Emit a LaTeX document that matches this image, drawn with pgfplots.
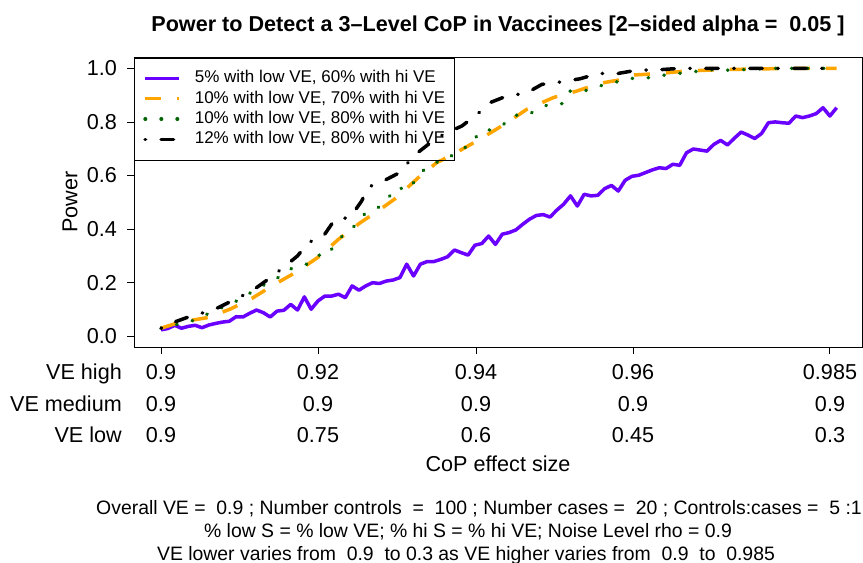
\documentclass[border=0pt]{standalone}
\usepackage{fontspec}
\setmainfont{Liberation Sans}
\usepackage{pgfplots}
\pgfplotsset{compat=1.18}
\definecolor{cPurple}{HTML}{6A00FF}
\definecolor{cOrange}{HTML}{FFA500}
\definecolor{cGreen}{HTML}{006400}
\newcommand{\fA}{\fontsize{21.6bp}{26bp}\selectfont}
\newcommand{\fL}{\fontsize{17bp}{20bp}\selectfont}
\newcommand{\fB}{\fontsize{19.4bp}{23.3bp}\selectfont}
\begin{document}
\begin{tikzpicture}
\useasboundingbox (0,0) rectangle (863bp,-563bp);
\begin{axis}[
  at={(134bp,-347bp)}, anchor=south west,
  scale only axis, width=728.6bp, height=289.4bp,
  xmin=-3.96, xmax=102.8, ymin=-0.04, ymax=1.04,
  axis line style={line width=0.8bp},
  tick pos=left, tick align=outside, major tick length=7bp,
  tick style={line width=0.8bp, black},
  xtick={0,23,46.15,69.2,98}, xticklabels={},
  ytick={0,0.2,0.4,0.6,0.8,1}, yticklabels={0.0,0.2,0.4,0.6,0.8,1.0},
  yticklabel style={font=\fA, anchor=east, inner sep=0pt, xshift=-10bp},
  legend style={at={(0,1)}, anchor=north west, draw=black, line width=0.6bp,
    fill=none, font=\fL, inner xsep=9bp, inner ysep=12.5bp, row sep=4.3bp,
    column sep=14bp, cells={anchor=west},
    nodes={inner sep=0pt, text height=12.4bp, text depth=3.6bp}},
  legend image code/.code={\draw[#1] (4bp,0bp) -- (38bp,0bp);},
  legend cell align=left,
]
\addplot[cPurple, line width=3.5bp, line join=round] coordinates {
(0,0.024)(1,0.029)(2,0.041)(3,0.030)(4,0.037)(5,0.041)(6,0.032)(7,0.042)(8,0.048)(9,0.053)
(10,0.056)(11,0.073)(12,0.072)(13,0.086)(14,0.098)(15,0.088)(16,0.072)(17,0.094)(18,0.097)(19,0.119)
(20,0.098)(21,0.147)(22,0.101)(23,0.132)(24,0.150)(25,0.150)(26,0.157)(27,0.144)(28,0.188)(29,0.172)
(30,0.188)(31,0.200)(32,0.197)(33,0.206)(34,0.210)(35,0.219)(36,0.269)(37,0.225)(38,0.269)(39,0.279)
(40,0.279)(41,0.287)(42,0.297)(43,0.322)(44,0.312)(45,0.303)(46,0.340)(47,0.346)(48,0.374)(49,0.343)
(50,0.381)(51,0.387)(52,0.397)(53,0.418)(54,0.437)(55,0.451)(56,0.454)(57,0.445)(58,0.471)(59,0.493)
(60,0.524)(61,0.486)(62,0.530)(63,0.524)(64,0.526)(65,0.551)(66,0.563)(67,0.542)(68,0.582)(69,0.597)
(70,0.601)(71,0.611)(72,0.621)(73,0.629)(74,0.626)(75,0.642)(76,0.638)(77,0.685)(78,0.699)(79,0.695)
(80,0.691)(81,0.716)(82,0.731)(83,0.714)(84,0.739)(85,0.762)(86,0.751)(87,0.738)(88,0.757)(89,0.797)
(90,0.800)(91,0.797)(92,0.795)(93,0.822)(94,0.816)(95,0.822)(96,0.831)(97,0.853)(98,0.822)(99,0.853)
};
\addlegendentry{5\% with low VE, 60\% with hi VE}
\addplot[cOrange, line width=3.5bp, dash pattern=on 16bp off 16bp] coordinates {
(0,0.030)(2.8,0.053)(6.9,0.070)(10.1,0.101)(13.3,0.141)(16.4,0.190)(20.1,0.244)(23.3,0.300)
(26.0,0.362)(29.2,0.424)(31.8,0.468)(34.5,0.517)(37.7,0.592)(40.4,0.648)(42.8,0.679)(46.7,0.735)
(50.7,0.797)(53.6,0.847)(57.5,0.891)(60.9,0.915)(64.3,0.944)(67.7,0.959)(69.2,0.975)(72.6,0.980)
(77.0,0.990)(82,0.995)(88,0.998)(94,1.0)(99,1.0)
};
\addlegendentry{10\% with low VE, 70\% with hi VE}
\addplot[cGreen, line width=3.5bp, line cap=round, dash pattern=on 0.5bp off 15.5bp] coordinates {
(0,0.030)(4.9,0.060)(6.7,0.082)(11.1,0.132)(14.8,0.188)(16.8,0.213)(18.4,0.241)(19.5,0.259)
(21.3,0.269)(23.0,0.303)(24.3,0.300)(25.5,0.343)(27.0,0.387)(28.7,0.418)(29.9,0.459)(31.8,0.480)
(33.3,0.517)(34.6,0.557)(36.1,0.545)(38.7,0.627)(40.6,0.652)(42.2,0.667)(43.7,0.694)(45.5,0.716)
(46.6,0.762)(48.5,0.772)(50.2,0.791)(51.6,0.825)(53.7,0.825)(55.4,0.851)(57.2,0.869)(58.9,0.868)
(59.9,0.915)(61.6,0.913)(63.4,0.925)(65.4,0.944)(67.6,0.953)(69.5,0.965)(71.4,0.965)(73.6,0.974)
(75.7,0.981)(77.8,0.986)(80.0,0.995)(84.1,0.993)(86.2,0.997)(90,1.0)(99,1.0)
};
\addlegendentry{10\% with low VE, 80\% with hi VE}
\addplot[black, line width=3.5bp, line cap=round, dash pattern=on 0.5bp off 15.5bp on 12.5bp off 15.5bp] coordinates {
(0,0.030)(1.1,0.045)(3.8,0.070)(6.2,0.088)(8.4,0.107)(13.3,0.169)(15.5,0.209)(17.9,0.256)
(20.0,0.300)(21.6,0.350)(23.8,0.374)(25.5,0.437)(27.7,0.443)(29.4,0.505)(30.4,0.557)(32.6,0.580)
(35.0,0.611)(37.0,0.673)(39.1,0.715)(41.4,0.754)(44.1,0.785)(46.3,0.828)(48.2,0.872)(50.7,0.897)
(53.5,0.907)(55.8,0.940)(58.5,0.949)(61.4,0.961)(64.1,0.981)(67.0,0.981)(69.7,0.993)(72.6,0.994)
(75.5,0.999)(78.5,1.0)(99,1.0)
};
\addlegendentry{12\% with low VE, 80\% with hi VE}
\end{axis}
% title
\node[anchor=base, font=\fA\bfseries] at (498bp,-31bp) {Power to Detect a 3\textendash Level CoP in Vaccinees [2\textendash sided alpha =\ \ 0.05 ]};
% y label
\node[rotate=90, font=\fA] at (70bp,-202bp) {Power};
% rows below the axis
\begin{scope}[every node/.style={font=\fA, inner sep=0pt}]
\node[anchor=base east] at (122bp,-379bp) {VE high};
\node[anchor=base east] at (122bp,-411bp) {VE medium};
\node[anchor=base east] at (122bp,-442bp) {VE low};
\node[anchor=base] at (161bp,-379bp) {0.9};
\node[anchor=base] at (318bp,-379bp) {0.92};
\node[anchor=base] at (476bp,-379bp) {0.94};
\node[anchor=base] at (633bp,-379bp) {0.96};
\node[anchor=base] at (830bp,-379bp) {0.985};
\node[anchor=base] at (161bp,-411bp) {0.9};
\node[anchor=base] at (318bp,-411bp) {0.9};
\node[anchor=base] at (476bp,-411bp) {0.9};
\node[anchor=base] at (633bp,-411bp) {0.9};
\node[anchor=base] at (830bp,-411bp) {0.9};
\node[anchor=base] at (161bp,-442bp) {0.9};
\node[anchor=base] at (318bp,-442bp) {0.75};
\node[anchor=base] at (476bp,-442bp) {0.6};
\node[anchor=base] at (633bp,-442bp) {0.45};
\node[anchor=base] at (830bp,-442bp) {0.3};
\node[anchor=base] at (498bp,-471bp) {CoP effect size};
\end{scope}
\begin{scope}[every node/.style={font=\fB, inner sep=0pt}]
\node[anchor=base] at (479bp,-514bp) {Overall VE =\ \ 0.9 ; Number controls\ \ =\ \ 100 ; Number cases =\ \ 20 ; Controls:cases =\ \ 5 :1};
\node[anchor=base] at (468bp,-537bp) {\% low S = \% low VE; \% hi S = \% hi VE; Noise Level rho = 0.9};
\node[anchor=base] at (466bp,-560bp) {VE lower varies from\ \ 0.9\ \ to 0.3 as VE higher varies from\ \ 0.9\ \ to\ \ 0.985};
\end{scope}
\end{tikzpicture}
\end{document}
